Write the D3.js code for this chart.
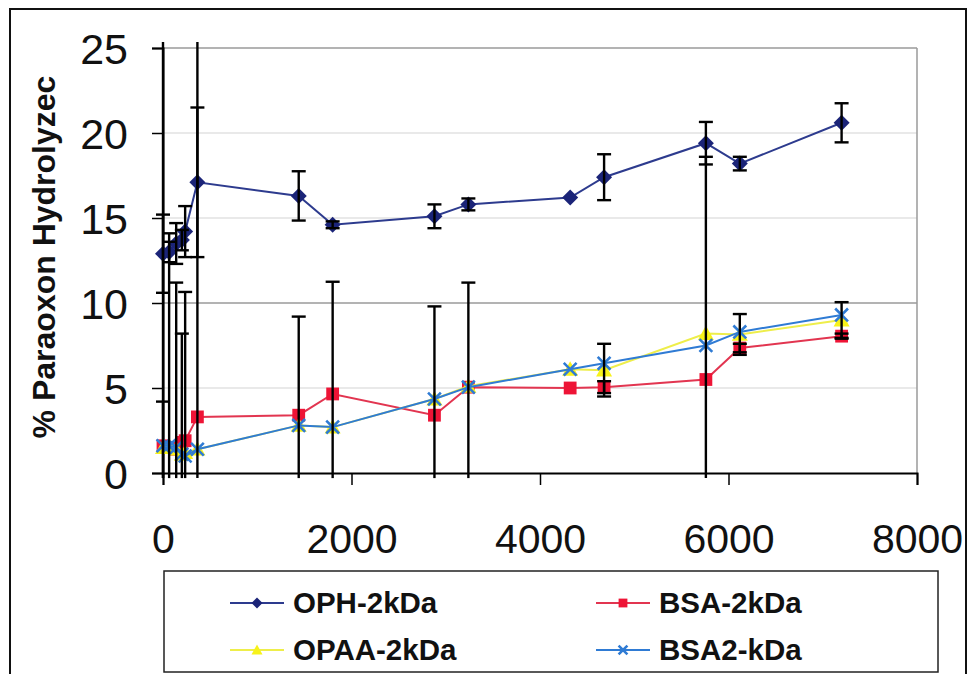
<!DOCTYPE html>
<html><head><meta charset="utf-8">
<script src="https://cdn.jsdelivr.net/npm/d3@7"></script>
<style>html,body{margin:0;padding:0;background:#fff;}svg{display:block;}</style>
</head><body>
<svg id="chart" width="968" height="674"></svg>
<script>
// ---- data ----
const times = [0, 65, 140, 200, 235, 365, 1440, 1800, 2880, 3240, 4320, 4680, 5760, 6120, 7200];
const ophValues  = [12.9, 13.0, 13.5, 13.7, 14.2, 17.1, 16.3, 14.6, 15.1, 15.8, 16.2, 17.4, 19.4, 18.2, 20.6];
const ophErrors  = [2.3, 0.6, 1.2, 0.6, 1.5, 4.4, 1.45, 0.2, 0.7, 0.35, 0, 1.35, 1.25, 0.4, 1.15];
const bsaValues  = [1.6, 1.5, 1.4, 1.8, 1.9, 3.3, 3.4, 4.65, 3.4, 5.05, 5.0, 5.05, 5.5, 7.35, 8.05];
const bsaErrors  = [0, 0, 0, 0, 0, 0, 0, 0, 0, 0, 0, 0.35, 0, 0.25, 0.15];
const opaaValues = [1.5, 1.6, 1.4, 1.1, 1.2, 1.4, 2.8, 2.7, 4.35, 5.1, 6.1, 6.05, 8.2, 8.15, 9.0];
const opaaErrors = [24, 0, 9.8, 0, 9.45, 24, 6.4, 8.55, 5.45, 6.1, 0, 1.55, 10.4, 1.2, 1.05];
const bsa2Values = [1.6, 1.6, 1.5, 1.1, 1.0, 1.4, 2.8, 2.7, 4.35, 5.05, 6.1, 6.45, 7.5, 8.3, 9.3];
const bsa2Errors = [2.6, 12.5, 0, 7.1, 0, 0, 0, 0, 0, 0, 0, 0, 0, 0, 0];
const seriesNames = ["OPH-2kDa", "BSA-2kDa", "OPAA-2kDa", "BSA2-kDa"];
const xTicks = [0, 2000, 4000, 6000, 8000];
const yTicks = [0, 5, 10, 15, 20, 25];
const yTitle = "% Paraoxon Hydrolyzec";

// ---- layout ----
const svg = d3.select("#chart");
const x = d3.scaleLinear().domain([0, 8000]).range([163, 917]);
const y = d3.scaleLinear().domain([0, 25]).range([473, 48]);
const FONT = "Liberation Sans, Arial, Helvetica, sans-serif";

// outer frame
svg.append("rect").attr("x", 10).attr("y", 9).attr("width", 956).attr("height", 700)
  .attr("fill", "none").attr("stroke", "#111").attr("stroke-width", 2);

// gridlines
svg.append("g").selectAll("line").data(yTicks.filter(d => d > 0)).join("line")
  .attr("x1", x(0)).attr("x2", x(8000))
  .attr("y1", d => y(d)).attr("y2", d => y(d))
  .attr("stroke", d => d === 10 || d === 25 ? "#9a9a9a" : "#e2e2e2")
  .attr("stroke-width", 1.5);
// right border of plot
svg.append("line").attr("x1", x(8000)).attr("x2", x(8000)).attr("y1", y(25)).attr("y2", y(0))
  .attr("stroke", "#9a9a9a").attr("stroke-width", 1.5);

// axes
const yAxis = d3.axisLeft(y).tickValues(yTicks).tickSize(11).tickPadding(24).tickFormat(d3.format("d"));
const gy = svg.append("g").attr("transform", `translate(${x(0)},0)`).call(yAxis);
gy.select(".domain").attr("stroke", "#000").attr("stroke-width", 2);
gy.selectAll(".tick line").attr("stroke", "#000").attr("stroke-width", 1.5);
gy.selectAll(".tick text").attr("font-family", FONT).attr("font-size", 43).attr("fill", "#111")
  .attr("dy", "0.36em");

const xAxis = d3.axisBottom(x).tickValues(xTicks).tickSize(12).tickFormat(d3.format("d"));
const gx = svg.append("g").attr("transform", `translate(0,${y(0)})`).call(xAxis);
gx.select(".domain").attr("stroke", "#000").attr("stroke-width", 2);
gx.selectAll(".tick line").attr("stroke", "#000").attr("stroke-width", 1.5);
gx.selectAll(".tick text").attr("font-family", FONT).attr("font-size", 41).attr("fill", "#111")
  .attr("y", 80).attr("dy", null);

// y title
svg.append("text").attr("transform", "translate(55,257) rotate(-90)")
  .attr("text-anchor", "middle").attr("font-family", FONT).attr("font-weight", "bold")
  .attr("font-size", 32).attr("fill", "#111").text(yTitle);

// ---- series ----
const series = [
  {name: seriesNames[0], vals: ophValues,  errs: ophErrors,  line: "#2d3b8e", fill: "#1b2478", shape: "diamond"},
  {name: seriesNames[1], vals: bsaValues,  errs: bsaErrors,  line: "#e23550", fill: "#ee1436", shape: "square"},
  {name: seriesNames[2], vals: opaaValues, errs: opaaErrors, line: "#eeee4a", fill: "#f7f21a", shape: "triangle"},
  {name: seriesNames[3], vals: bsa2Values, errs: bsa2Errors, line: "#2f7bd4", fill: "#2f7bd4", shape: "x"}
];

function markerPath(shape, s) {
  if (shape === "diamond") return `M0,${-s}L${s},0L0,${s}L${-s},0Z`;
  if (shape === "square") return `M${-s*0.8},${-s*0.8}H${s*0.8}V${s*0.8}H${-s*0.8}Z`;
  if (shape === "triangle") return `M0,${-s}L${s},${s*0.8}L${-s},${s*0.8}Z`;
  return `M${-s*0.8},${-s*0.8}L${s*0.8},${s*0.8}M${s*0.8},${-s*0.8}L${-s*0.8},${s*0.8}`;
}
function drawMarker(g, shape, s, fill) {
  const p = g.append("path").attr("d", markerPath(shape, s));
  if (shape === "x") p.attr("fill", "none").attr("stroke", fill).attr("stroke-width", 2.6);
  else p.attr("fill", fill);
}

const line = d3.line().x(d => x(d[0])).y(d => y(d[1]));
series.forEach(s => {
  const pts = times.map((t, i) => [t, s.vals[i]]);
  svg.append("path").datum(pts).attr("d", line).attr("fill", "none")
    .attr("stroke", s.line).attr("stroke-width", 2);
  const g = svg.append("g");
  pts.forEach(p => {
    const m = g.append("g").attr("transform", `translate(${x(p[0])},${y(p[1])})`);
    drawMarker(m, s.shape, 8, s.fill);
  });
});

// error bars (on top)
const eb = svg.append("g").attr("stroke", "#000").attr("stroke-width", 2.4);
const lo = -0.3, hi = 25.35, cap = 7;
series.forEach(s => {
  times.forEach((t, i) => {
    const e = s.errs[i];
    if (!e) return;
    const top = s.vals[i] + e, bot = s.vals[i] - e;
    const tC = Math.min(top, hi), bC = Math.max(bot, lo);
    const cx = x(t);
    eb.append("line").attr("x1", cx).attr("x2", cx).attr("y1", y(tC)).attr("y2", y(bC));
    if (top <= hi) eb.append("line").attr("x1", cx - cap).attr("x2", cx + cap).attr("y1", y(top)).attr("y2", y(top));
    if (bot >= lo) eb.append("line").attr("x1", cx - cap).attr("x2", cx + cap).attr("y1", y(bot)).attr("y2", y(bot));
  });
});

// ---- legend ----
const lg = svg.append("g");
lg.append("rect").attr("x", 164).attr("y", 571).attr("width", 774).attr("height", 101)
  .attr("fill", "#fff").attr("stroke", "#222").attr("stroke-width", 1.5);
const legendPos = [[230, 603], [596, 603], [230, 650], [596, 650]];
series.forEach((s, i) => {
  const [lx, ly] = legendPos[i];
  lg.append("line").attr("x1", lx).attr("x2", lx + 54).attr("y1", ly).attr("y2", ly)
    .attr("stroke", s.line).attr("stroke-width", 2);
  const m = lg.append("g").attr("transform", `translate(${lx + 27},${ly})`);
  drawMarker(m, s.shape, 5.5, s.fill);
  lg.append("text").attr("x", lx + 63).attr("y", ly + 10)
    .attr("font-family", FONT).attr("font-weight", "bold").attr("font-size", 29.5)
    .attr("fill", "#111").text(s.name);
});
</script>
</body></html>
